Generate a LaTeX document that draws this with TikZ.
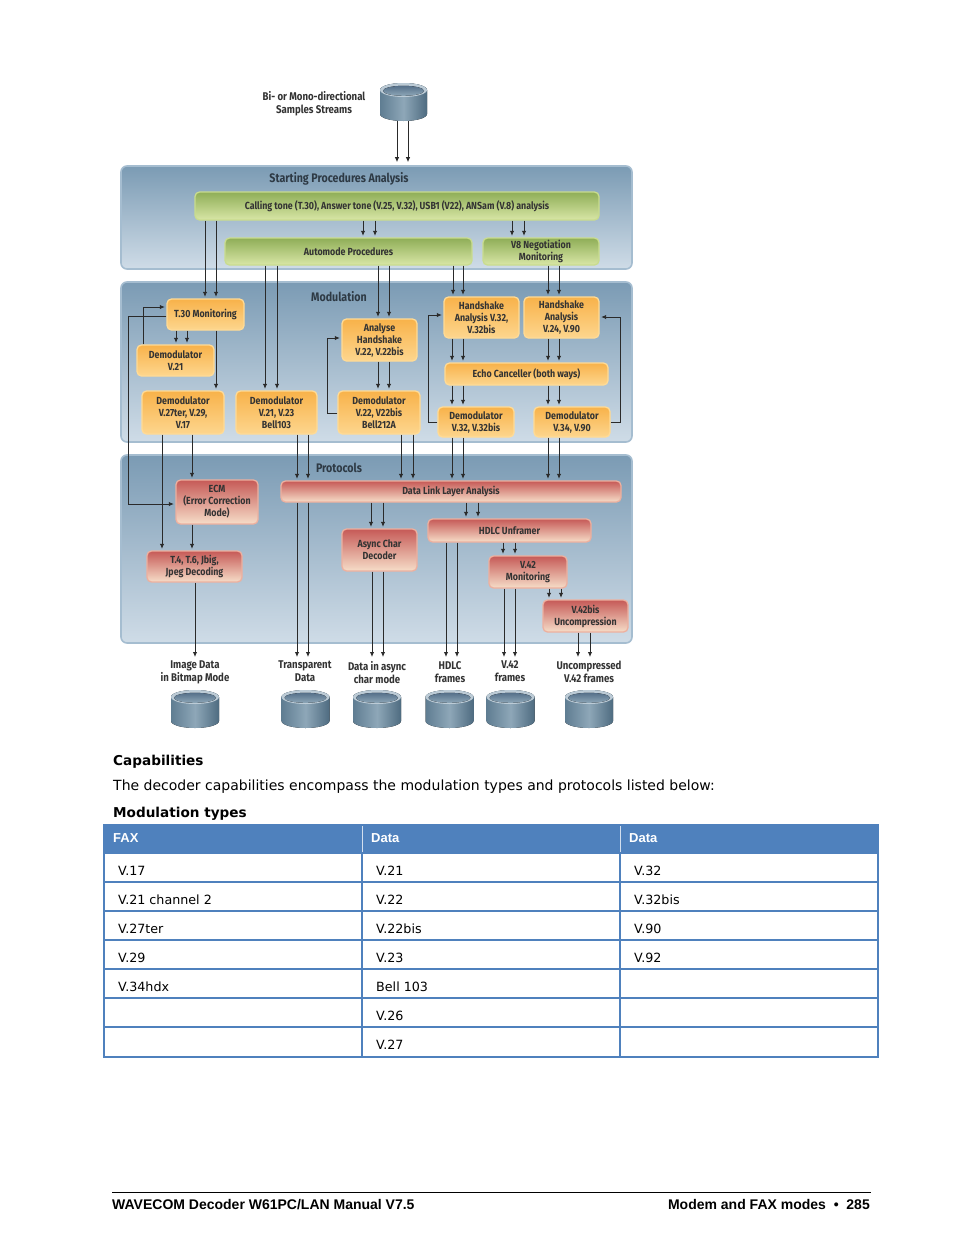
\documentclass[tikz,border=0pt]{standalone}
\usepackage{fontspec}
\setmainfont{DejaVu Sans}
\newfontfamily\dfont[FakeStretch=0.86]{Fira Sans}
\newfontfamily\afont{Liberation Sans}
\usetikzlibrary{arrows.meta}
\definecolor{outT}{HTML}{7B9BB4}
\definecolor{outB}{HTML}{CFDCE7}
\definecolor{outD}{HTML}{A5BDD0}
\definecolor{grT}{HTML}{8FAE57}
\definecolor{grB}{HTML}{D8E6A6}
\definecolor{grD}{HTML}{C9DC8E}
\definecolor{orT}{HTML}{F8B24A}
\definecolor{orB}{HTML}{FDD68E}
\definecolor{orD}{HTML}{FFDB96}
\definecolor{rdT}{HTML}{C65A57}
\definecolor{rdB}{HTML}{F6DDC8}
\definecolor{rdD}{HTML}{EDB09F}
\definecolor{txt}{HTML}{333333}
\definecolor{ttlc}{HTML}{2E3A45}
\definecolor{lin}{HTML}{2A2A2A}
\definecolor{tblue}{HTML}{4F81BD}
\definecolor{cylA}{HTML}{5F7D92}
\definecolor{cylB}{HTML}{8EA7B8}
\definecolor{cylC}{HTML}{4E6B80}
\definecolor{cylTop}{HTML}{BCCBD6}
\definecolor{cylIn}{HTML}{56708A}
\newcommand\bx[7]{%
  \pgfmathsetmacro\bxw{#5-#3}\pgfmathsetmacro\bxh{#6-#4}%
  \node[#1,minimum width=\bxw pt,minimum height=\bxh pt] (#2) at ({(#3+#5)/2},{(#4+#6)/2}) {#7};}
\newcommand\dbcyl[4]{%
  \begin{scope}[shift={(#2,#3)}]
    \fill[left color=cylA,right color=cylC,middle color=cylB]
      (-#4,7) -- (-#4,31) arc[start angle=180,end angle=360,x radius=#4pt,y radius=7pt]
      -- (#4,7) arc[start angle=0,end angle=180,x radius=#4pt,y radius=7pt] -- cycle;
    \fill[cylTop] (0,7) ellipse[x radius=#4pt,y radius=7pt];
    \fill[top color=cylIn,bottom color=cylB] (0,7.8) ellipse[x radius={#4pt-3pt},y radius=5pt];
    \coordinate (#1) at (0,38);
  \end{scope}}
\begin{document}
\begin{tikzpicture}[x=1pt,y=-1pt,
  outer/.style={rounded corners=6pt,top color=outT,bottom color=outB,draw=outD,line width=1.6pt},
  box/.style={rounded corners=4.5pt,line width=1.3pt,inner sep=1pt,align=center,text=txt,
    font=\dfont\bfseries\fontsize{10.3}{12}\selectfont},
  gbox/.style={box,top color=grT,bottom color=grB,draw=grD},
  obox/.style={box,top color=orT,bottom color=orB,draw=orD},
  rbox/.style={box,top color=rdT,bottom color=rdB,draw=rdD},
  ttl/.style={text=ttlc,font=\dfont\bfseries\fontsize{12.4}{15}\selectfont},
  lab/.style={align=center,text=txt,inner sep=0pt,font=\dfont\bfseries\fontsize{11.2}{13}\selectfont},
  arr/.style={draw=lin,line width=0.9pt,-{Latex[length=5pt,width=4.4pt]},shorten >=1.5pt},
  body/.style={anchor=base west,inner sep=0pt,font=\fontsize{14}{16}\selectfont},
  cell/.style={anchor=base west,inner sep=0pt,font=\fontsize{12.7}{15}\selectfont},
  hd/.style={anchor=base west,inner sep=0pt,text=white,font=\afont\bfseries\fontsize{13}{15}\selectfont},
  foot/.style={inner sep=0pt,font=\afont\bfseries\fontsize{14}{16}\selectfont}]
\useasboundingbox[fill=white] (0,0) rectangle (954,1235);

% ---------- source ----------
\dbcyl{src}{403.5}{83}{23.5}
\node[lab] (srcl) at (314,104) {Bi- or Mono-directional\\Samples Streams};

% ---------- outer boxes ----------
\bx{outer}{spa}{121}{166}{632}{269}{}
\bx{outer}{mod}{121}{282}{632}{442}{}
\bx{outer}{prot}{121}{455}{632}{643}{}
\node[ttl] (spat) at (339,179) {Starting Procedures Analysis};
\node[ttl] (modt) at (339,297) {Modulation};
\node[ttl] (prott) at (339,468) {Protocols};

% ---------- starting procedures ----------
\bx{gbox}{cal}{195}{192}{599}{220}{Calling tone (T.30), Answer tone (V.25, V.32), USB1 (V22), ANSam (V.8) analysis}
\bx{gbox}{auto}{225}{238}{472}{265}{Automode Procedures}
\bx{gbox}{v8}{483}{238}{599}{265}{V8 Negotiation\\Monitoring}

% ---------- modulation ----------
\bx{obox}{t30}{167}{299}{244}{330}{T.30 Monitoring}
\bx{obox}{dv21}{137}{345}{214}{376}{Demodulator\\V.21}
\bx{obox}{d27}{142}{391}{224}{434}{Demodulator\\V.27ter, V.29,\\V.17}
\bx{obox}{d23}{236}{391}{317}{434}{Demodulator\\V.21, V.23\\Bell103}
\bx{obox}{ah}{342}{319}{417}{361}{Analyse\\Handshake\\V.22, V.22bis}
\bx{obox}{d22}{338}{391}{420}{434}{Demodulator\\V.22, V22bis\\Bell212A}
\bx{obox}{ha32}{444}{297}{519}{338}{Handshake\\Analysis V.32,\\V.32bis}
\bx{obox}{ha24}{524}{297}{599}{338}{Handshake\\Analysis\\V.24, V.90}
\bx{obox}{echo}{445}{363}{608}{385}{Echo Canceller (both ways)}
\bx{obox}{d32}{438}{407}{514}{437}{Demodulator\\V.32, V.32bis}
\bx{obox}{d34}{534}{407}{610}{437}{Demodulator\\V.34, V.90}

% ---------- protocols ----------
\bx{rbox}{ecm}{176}{480}{258}{524}{ECM\\(Error Correction\\Mode)}
\bx{rbox}{t4}{147}{551}{242}{582}{T.4, T.6, Jbig,\\Jpeg Decoding}
\bx{rbox}{dll}{281}{481}{621}{502}{Data Link Layer Analysis}
\bx{rbox}{async}{342}{529}{417}{571}{Async Char\\Decoder}
\bx{rbox}{hdlc}{428}{519}{591}{542}{HDLC Unframer}
\bx{rbox}{v42}{489}{556}{567}{588}{V.42\\Monitoring}
\bx{rbox}{v42b}{543}{600}{628}{632}{V.42bis\\Uncompression}

% ---------- outputs ----------
\node[lab,anchor=north] (lImg) at (195,661) {Image Data\\in Bitmap Mode};
\node[lab,anchor=north] (lTr)  at (305,661) {Transparent\\Data};
\node[lab,anchor=north] (lAs)  at (377,661) {Data in async\\char mode};
\node[lab,anchor=north] (lHd)  at (450,661) {HDLC\\frames};
\node[lab,anchor=north] (lV42) at (510,661) {V.42\\frames};
\node[lab,anchor=north] (lUn)  at (589,661) {Uncompressed\\V.42 frames};
\dbcyl{cImg}{195}{690}{24}
\dbcyl{cTr}{305.5}{690}{24}
\dbcyl{cAs}{377}{690}{24}
\dbcyl{cHd}{449.5}{690}{24}
\dbcyl{cV42}{510.5}{690}{24}
\dbcyl{cUn}{589}{690}{24}

% ---------- connectors ----------
\foreach \x in {397,408} \draw[arr,shorten >=3pt] (src -| \x,0) -- (spa.north -| \x,0);
\foreach \x in {363,375} \draw[arr] (cal.south -| \x,0) -- (auto.north -| \x,0);
\foreach \x in {512,524} \draw[arr] (cal.south -| \x,0) -- (v8.north -| \x,0);
\foreach \x in {205,216} \draw[arr] (cal.south -| \x,0) -- (t30.north -| \x,0);
\foreach \x in {265,277} \draw[arr] (auto.south -| \x,0) -- (d23.north -| \x,0);
\foreach \x in {378,389} \draw[arr] (auto.south -| \x,0) -- (ah.north -| \x,0);
\foreach \x in {453,463} \draw[arr] (auto.south -| \x,0) -- (ha32.north -| \x,0);
\foreach \x in {548,559} \draw[arr] (v8.south -| \x,0) -- (ha24.north -| \x,0);
\foreach \x in {176,187} \draw[arr] (t30.south -| \x,0) -- (dv21.north -| \x,0);
\draw[arr] (t30.south -| 216,0) -- (d27.north -| 216,0);
\draw[arr] (dv21.north -| 143,0) |- (t30.west |- 0,307);
\draw[arr] (t30.west |- 0,316) -- (128,316) |- (ecm.west |- 0,504);
\draw[arr] (d27.south -| 162,0) -- (t4.north -| 162,0);
\draw[arr] (d27.south -| 192,0) -- (ecm.north -| 192,0);
\draw[arr] (ecm.south -| 192,0) -- (t4.north -| 192,0);
\draw[arr,shorten >=4pt] (t4.south -| 195,0) -- (lImg.north -| 195,0);
\foreach \x in {297,308} \draw[arr] (d23.south -| \x,0) -- (dll.north -| \x,0);
\foreach \x in {378,389} \draw[arr] (ah.south -| \x,0) -- (d22.north -| \x,0);
\draw[arr] (d22.west |- 0,413) -- (327,413) |- (ah.west |- 0,338);
\foreach \x in {401,413} \draw[arr] (d22.south -| \x,0) -- (dll.north -| \x,0);
\foreach \x in {452,463} \draw[arr] (ha32.south -| \x,0) -- (echo.north -| \x,0);
\foreach \x in {548,559} \draw[arr] (ha24.south -| \x,0) -- (echo.north -| \x,0);
\foreach \x in {452,463} \draw[arr] (echo.south -| \x,0) -- (d32.north -| \x,0);
\foreach \x in {548,559} \draw[arr] (echo.south -| \x,0) -- (d34.north -| \x,0);
\draw[arr] (d32.west |- 0,422) -- (428,422) |- (ha32.west |- 0,315);
\draw[arr] (d34.east |- 0,422) -- (620,422) |- (ha24.east |- 0,317);
\foreach \x in {452,463} \draw[arr] (d32.south -| \x,0) -- (dll.north -| \x,0);
\foreach \x in {548,559} \draw[arr] (d34.south -| \x,0) -- (dll.north -| \x,0);
\foreach \x in {297,308} \draw[arr,shorten >=4pt] (dll.south -| \x,0) -- (lTr.north -| \x,0);
\foreach \x in {371,383} \draw[arr] (dll.south -| \x,0) -- (async.north -| \x,0);
\foreach \x in {372,383} \draw[arr,shorten >=4pt] (async.south -| \x,0) -- (lAs.north -| \x,0);
\foreach \x in {466,478} \draw[arr] (dll.south -| \x,0) -- (hdlc.north -| \x,0);
\foreach \x in {446,457} \draw[arr,shorten >=4pt] (hdlc.south -| \x,0) -- (lHd.north -| \x,0);
\foreach \x in {503,515} \draw[arr] (hdlc.south -| \x,0) -- (v42.north -| \x,0);
\foreach \x in {504,515} \draw[arr,shorten >=4pt] (v42.south -| \x,0) -- (lV42.north -| \x,0);
\foreach \x in {549,561} \draw[arr] (v42.south -| \x,0) -- (v42b.north -| \x,0);
\foreach \x in {578,590} \draw[arr,shorten >=4pt] (v42b.south -| \x,0) -- (lUn.north -| \x,0);

% ---------- text ----------
\node[body,font=\bfseries\fontsize{13.6}{15}\selectfont] (capt) at (113,765) {Capabilities};
\node[body] (capx) at (113,790) {The decoder capabilities encompass the modulation types and protocols listed below:};
\node[body,font=\bfseries\fontsize{13.6}{15}\selectfont] (modty) at (113,817) {Modulation types};

% ---------- table ----------
\fill[tblue] (104,825) rectangle (878,853);
\draw[white!75!tblue,line width=1pt] (362,826) -- (362,853) (620,826) -- (620,853);
\foreach \y in {853,882,911,940,969,998,1027}
  \draw[tblue,line width=1.6pt] (104,\y) -- (878,\y);
\draw[tblue,line width=1.6pt] (362,853) -- (362,1057) (620,853) -- (620,1057);
\draw[tblue,line width=1.8pt] (104,825) rectangle (878,1057);
\node[hd] (h1) at (113,842.7) {FAX};
\node[hd] (h2) at (371,842.7) {Data};
\node[hd] (h3) at (629,842.7) {Data};
\node[cell] (a1) at (118,875) {V.17};
\node[cell] (a2) at (118,904) {V.21 channel 2};
\node[cell] (a3) at (118,933) {V.27ter};
\node[cell] (a4) at (118,962) {V.29};
\node[cell] (a5) at (118,991.5) {V.34hdx};
\node[cell] (b1) at (376,875) {V.21};
\node[cell] (b2) at (376,904) {V.22};
\node[cell] (b3) at (376,933) {V.22bis};
\node[cell] (b4) at (376,962) {V.23};
\node[cell] (b5) at (376,991.5) {Bell 103};
\node[cell] (b6) at (376,1020.5) {V.26};
\node[cell] (b7) at (376,1049.5) {V.27};
\node[cell] (c1) at (634,875) {V.32};
\node[cell] (c2) at (634,904) {V.32bis};
\node[cell] (c3) at (634,933) {V.90};
\node[cell] (c4) at (634,962) {V.92};

% ---------- footer ----------
\draw[black,line width=1pt] (112,1192.5) -- (871,1192.5);
\node[foot,anchor=base west] (fl) at (112,1209) {WAVECOM Decoder W61PC/LAN Manual V7.5};
\node[foot,anchor=base east] (fr) at (870,1209) {Modem and FAX modes \ • \ 285};
\end{tikzpicture}
\end{document}
